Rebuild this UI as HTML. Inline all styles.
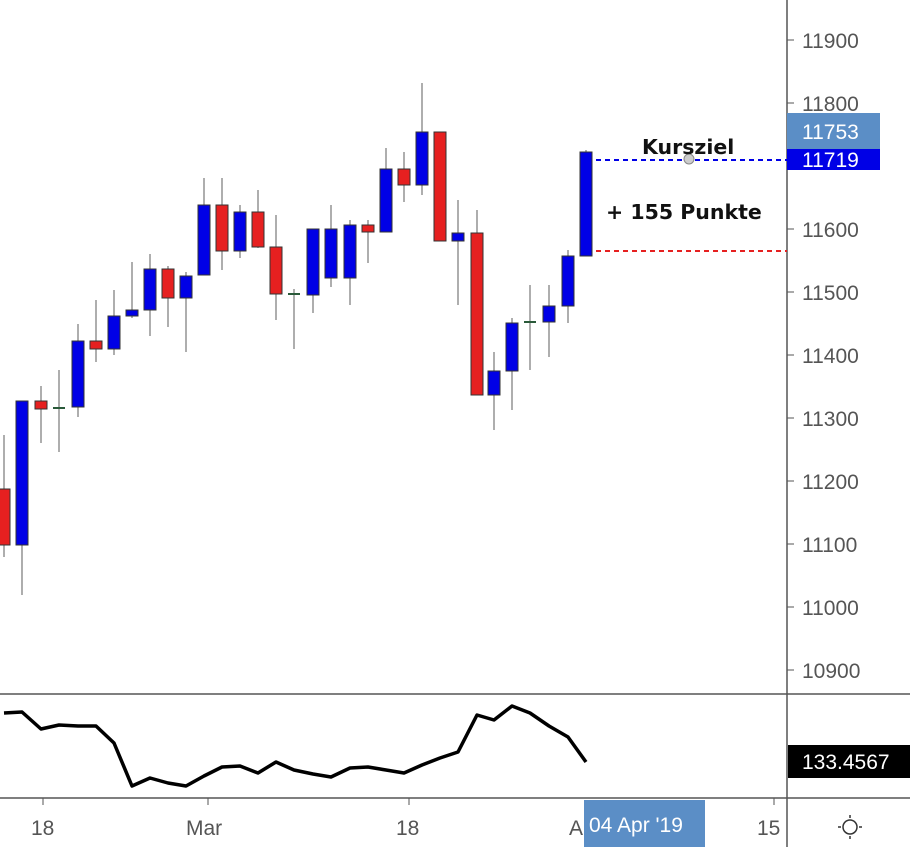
<!DOCTYPE html><html><head><style>body{margin:0;background:#fff}svg{display:block;font-family:"Liberation Sans",sans-serif}</style></head><body>
<svg width="910" height="847" viewBox="0 0 910 847">
<rect width="910" height="847" fill="#fff"/>
<g id="c"></g>
<line x1="787" y1="0" x2="787" y2="847" stroke="#555" stroke-width="1.5"/>
<line x1="0" y1="694" x2="910" y2="694" stroke="#555" stroke-width="1.5"/>
<line x1="0" y1="798" x2="910" y2="798" stroke="#555" stroke-width="1.5"/>
<g font-size="21" fill="#555">
<text x="802" y="48">11900</text><text x="802" y="111">11800</text><text x="802" y="237">11600</text><text x="802" y="300">11500</text><text x="802" y="363">11400</text><text x="802" y="426">11300</text><text x="802" y="489">11200</text><text x="802" y="552">11100</text><text x="802" y="615">11000</text><text x="802" y="678">10900</text>
</g>
<g stroke="#555"><line x1="787" y1="40" x2="794" y2="40"/><line x1="787" y1="103" x2="794" y2="103"/><line x1="787" y1="229" x2="794" y2="229"/><line x1="787" y1="292" x2="794" y2="292"/><line x1="787" y1="355" x2="794" y2="355"/><line x1="787" y1="418" x2="794" y2="418"/><line x1="787" y1="481" x2="794" y2="481"/><line x1="787" y1="544" x2="794" y2="544"/><line x1="787" y1="607" x2="794" y2="607"/><line x1="787" y1="670" x2="794" y2="670"/>
<line x1="43" y1="798" x2="43" y2="805"/><line x1="208" y1="798" x2="208" y2="805"/><line x1="409" y1="798" x2="409" y2="805"/><line x1="774" y1="798" x2="774" y2="805"/></g>
<rect x="787" y="148" width="93" height="22" fill="#0000e6"/>
<text x="802" y="167" font-size="21" fill="#fff">11719</text>
<rect x="787" y="113" width="93" height="36" fill="#5b8ec6"/>
<text x="802" y="139" font-size="21" fill="#fff">11753</text>
<line x1="596" y1="160" x2="787" y2="160" stroke="#0000e6" stroke-width="2" stroke-dasharray="5,4"/>
<line x1="596" y1="251" x2="787" y2="251" stroke="#e62020" stroke-width="2" stroke-dasharray="5,4"/>
<circle cx="689" cy="159" r="5" fill="#ccc" stroke="#888"/>
<text x="642" y="154" font-size="20.5" font-weight="bold" fill="#111" font-family="DejaVu Sans, sans-serif">Kursziel</text>
<text x="606" y="219" font-size="20.5" font-weight="bold" fill="#111" font-family="DejaVu Sans, sans-serif">+ 155 Punkte</text>
<polyline fill="none" stroke="#000" stroke-width="3.5" stroke-linejoin="round" points="4,713 22,712 41,729 59,725 78,726 96,726 114,743 132,786 150,778 168,783 186,786 204,776 222,767 240,766 258,773 276,762 294,770 313,774 331,777 350,768 368,767 386,770 404,773 422,765 440,758 458,752 477,715 494,720 512,706 530,713 549,726 568,737 586,762"/>
<rect x="788" y="745" width="122" height="33" fill="#000"/>
<text x="802" y="769" font-size="21" fill="#fff">133.4567</text>
<g font-size="21" fill="#555">
<text x="31" y="835">18</text><text x="186" y="835">Mar</text><text x="396" y="835">18</text><text x="569" y="835">A</text><text x="757" y="835">15</text></g>
<rect x="584" y="800" width="121" height="47" fill="#5b8ec6"/>
<text x="589" y="832" font-size="21" fill="#fff">04 Apr '19</text>
<circle cx="850" cy="827" r="7" fill="none" stroke="#333" stroke-width="1.5"/>
<g stroke="#333" stroke-width="1.5"><line x1="850" y1="815" x2="850" y2="818"/><line x1="850" y1="836" x2="850" y2="839"/><line x1="838" y1="827" x2="841" y2="827"/><line x1="859" y1="827" x2="862" y2="827"/></g>
</svg>
<script>
var d=[[4,'r',489,545,435,557],[22,'b',401,545,401,595],[41,'r',401,409,386,443],[59,'d',408,408,370,452],[78,'b',341,407,324,417],[96,'r',341,349,300,362],[114,'b',316,349,290,355],[132,'b',310,316,262,318],[150,'b',269,310,254,336],[168,'r',269,298,266,327],[186,'b',276,298,272,352],[204,'b',205,275,178,275],[222,'r',205,251,178,270],[240,'b',212,251,205,258],[258,'r',212,247,190,248],[276,'r',247,294,215,320],[294,'d',294,294,289,349],[313,'b',229,295,229,313],[331,'b',229,278,205,287],[350,'b',225,278,220,305],[368,'r',225,232,220,263],[386,'b',169,232,148,232],[404,'r',169,185,152,202],[422,'b',132,185,83,195],[440,'r',132,241,132,241],[458,'b',233,241,200,305],[477,'r',233,395,210,395],[494,'b',371,395,352,430],[512,'b',323,371,318,410],[530,'d',322,322,285,370],[549,'b',306,322,285,357],[568,'b',256,306,250,323],[586,'b',152,256,150,256]];
var s='';d.forEach(function(c){s+='<line x1="'+c[0]+'" y1="'+c[4]+'" x2="'+c[0]+'" y2="'+c[5]+'" stroke="#777" stroke-width="1.2"/>';
if(c[1]=='d')s+='<line x1="'+(c[0]-6)+'" y1="'+c[2]+'" x2="'+(c[0]+6)+'" y2="'+c[2]+'" stroke="#2a5a3a" stroke-width="2"/>';
else s+='<rect x="'+(c[0]-6)+'" y="'+c[2]+'" width="12" height="'+(c[3]-c[2])+'" fill="'+(c[1]=='r'?'#e62020':'#0000e6')+'" stroke="#333" stroke-width="1"/>';});
document.getElementById('c').innerHTML=s;
</script>
</body></html>
